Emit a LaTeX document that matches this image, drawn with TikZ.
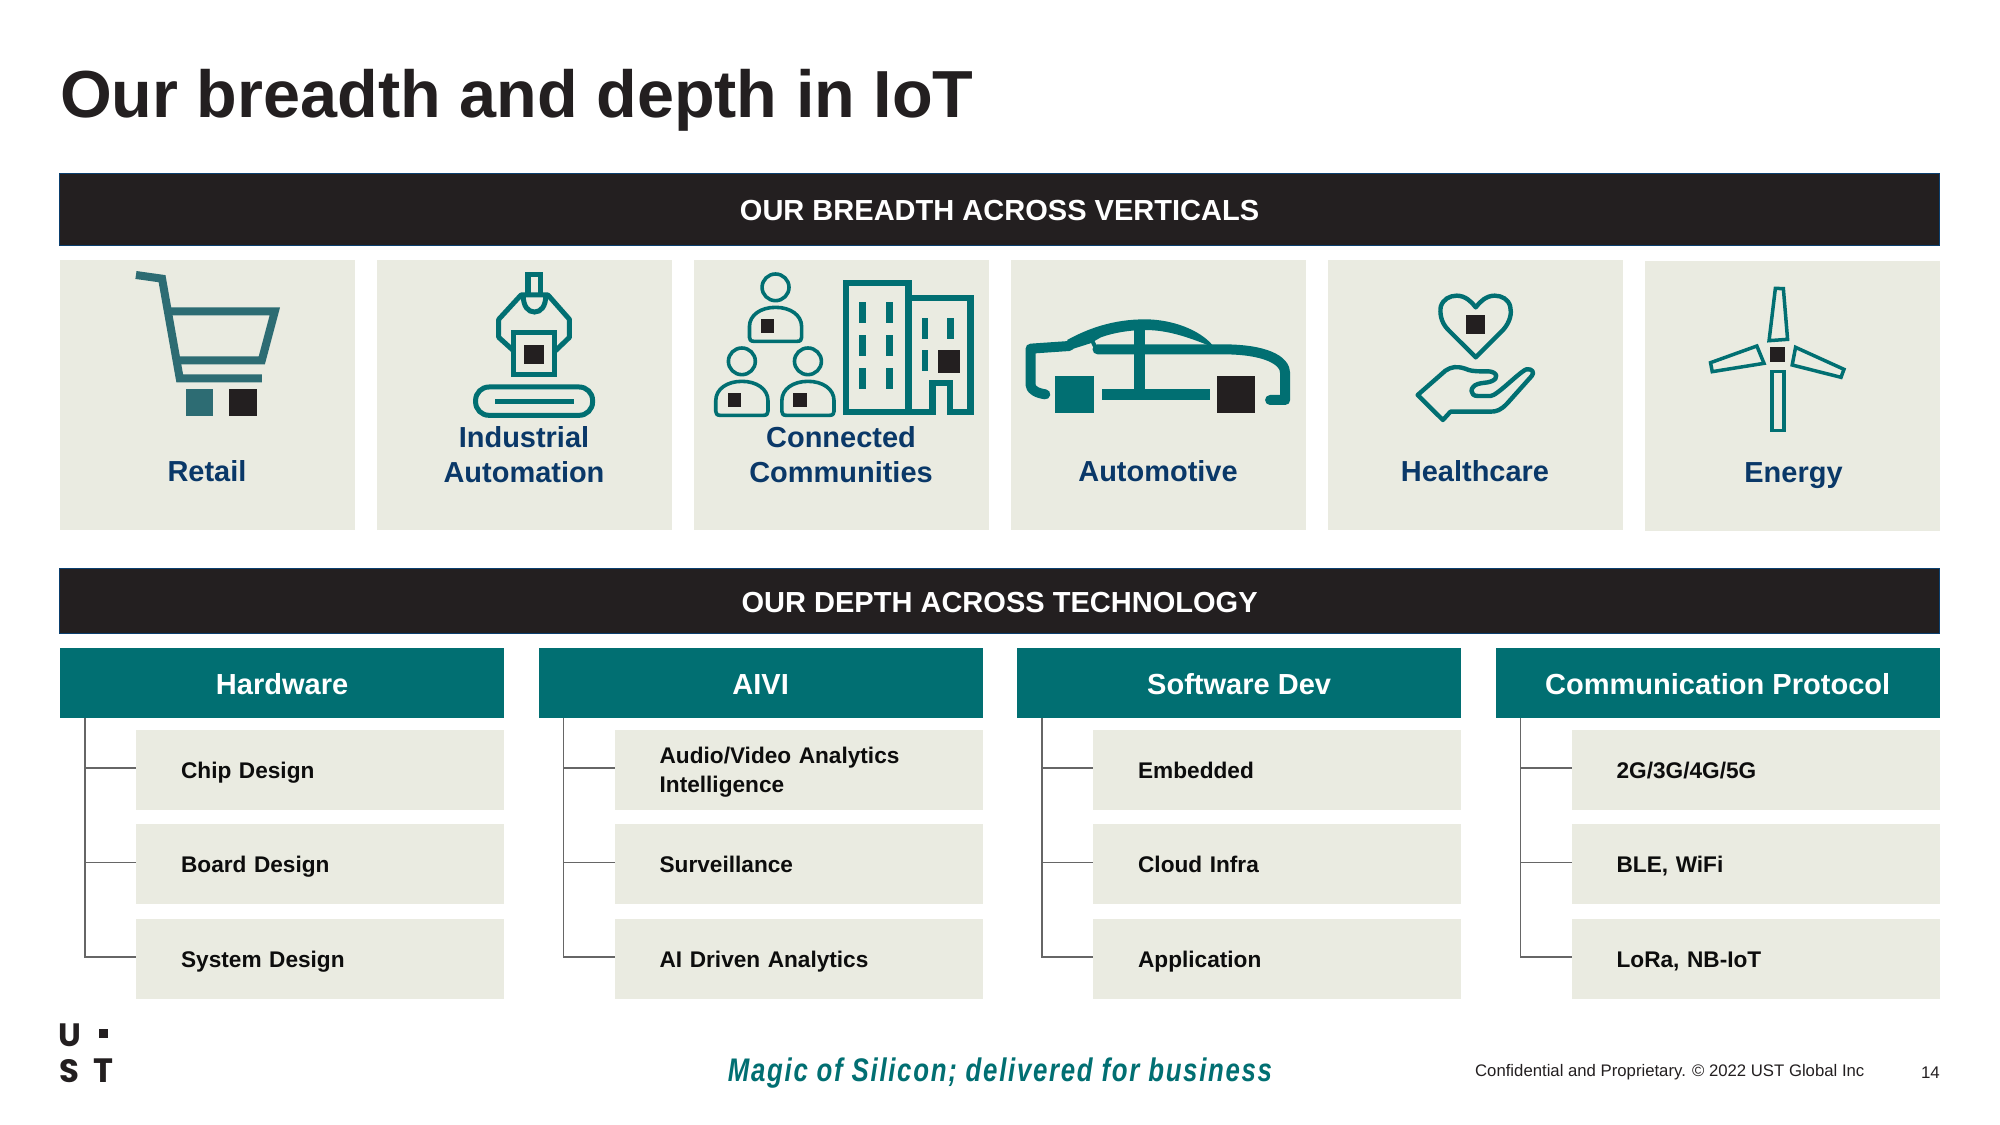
\documentclass[tikz,border=0pt]{standalone}
\usepackage{fontspec}
\usetikzlibrary{calc}
\setmainfont{Liberation Sans}
\newfontfamily\tagfont[FakeStretch=0.79,LetterSpace=5.2]{Liberation Sans}
\newfontfamily\logofont{Poppins}
\definecolor{ink}{HTML}{231F20}
\definecolor{teal}{HTML}{016F72}
\definecolor{cartteal}{HTML}{2D6C73}
\definecolor{panelbg}{HTML}{EAEBE1}
\definecolor{navy}{HTML}{0A3868}
\definecolor{bannerline}{HTML}{0B3F6E}
\definecolor{connline}{HTML}{666666}
\newcommand{\fs}[1]{\fontsize{#1}{#1}\selectfont}
\newcommand{\istrut}{\rule[-0.3cm]{0pt}{1.45cm}}
\tikzset{
  lw/.style={line width=#1*0.05cm},
  banner/.style={rectangle,fill=ink,draw=bannerline,line width=2pt,minimum width=94cm,text=white,font=\fs{41.3}\bfseries,inner sep=0pt,text height=1.35cm,text depth=0.25cm},
  panel/.style={rectangle,fill=panelbg,minimum width=14.72cm,minimum height=13.47cm,anchor=north west,inner sep=0pt},
  plabel/.style={text=navy,font=\fontsize{41.2}{50}\selectfont\bfseries,align=center,inner sep=0pt},
  sechead/.style={rectangle,fill=teal,text=white,font=\fs{41.3}\bfseries,minimum width=22.2cm,minimum height=3.5cm,anchor=north west,inner sep=0pt,text height=1.35cm,text depth=0.25cm},
  item/.style={rectangle,fill=panelbg,text=black!95,font=\fontsize{32.2}{39}\selectfont\bfseries,minimum height=4cm,text width=13.9cm,inner xsep=2.25cm,inner ysep=0pt,align=left,anchor=north west},
  conn/.style={draw=connline,line width=2.1pt},
  zo1/.style={shift={(40,250)},x=0.05cm/2.376,y=-0.05cm/3},
  zo2/.style={shift={(680,250)},x=0.05cm/2.376,y=-0.05cm/3},
  zo3/.style={shift={(1320,250)},x=0.05cm/2.376,y=-0.05cm/3},
  icon/.style={draw=teal,miter limit=8},
}
\newcommand{\cperson}[2]{%
  \begin{scope}[shift={(#1,#2)}]
    \draw[icon,lw=3.6] (227,112) ellipse [x radius=32,y radius=40];
    \draw[icon,lw=3.6,line join=round] (165,262) .. controls (165,270) and (168,274) .. (176,274) -- (278,274) .. controls (286,274) and (289,270) .. (289,262) -- (289,230) .. controls (289,195) and (262,172) .. (227,172) .. controls (192,172) and (165,195) .. (165,230) -- cycle;
  \end{scope}}
\begin{document}
\begin{tikzpicture}[x=0.05cm,y=-0.05cm]
\useasboundingbox (0,0) rectangle (2000,1125);
\fill[white] (0,0) rectangle (2000,1125);
\node[anchor=base west,inner sep=0pt,text=ink,font=\fs{94.7}\bfseries] (title) at (60,117.5) {Our breadth and depth in IoT};
\node[banner,minimum height=3.6cm] (b1) at (999.6,209.5) {OUR BREADTH ACROSS VERTICALS};
\node[banner,minimum height=3.25cm] (b2) at (999.6,601) {OUR DEPTH ACROSS TECHNOLOGY};
% panels
\node[panel] (p1) at (60,260) {};
\node[panel] (p2) at (377,260) {};
\node[panel] (p3) at (694,260) {};
\node[panel] (p4) at (1011,260) {};
\node[panel] (p5) at (1328,260) {};
\node[panel] (p6) at (1645,261) {};
% labels
\node[plabel,anchor=base] (l1) at (207,481) {Retail};
\node[plabel] (l2) at (524,454.5) {Industrial\\Automation};
\node[plabel] (l3) at (841,454.5) {Connected\\Communities};
\node[plabel,anchor=base] (l4) at (1158,481) {Automotive};
\node[plabel,anchor=base] (l5) at (1475,481) {Healthcare};
\node[plabel,anchor=base] (l6) at (1793.5,482) {Energy};
% cart
\begin{scope}[zo1]
  \draw[draw=cartteal,lw=8] (228,75) -- (290,86) -- (332,385) -- (527,385);
  \draw[draw=cartteal,lw=8] (306,184) -- (558,184) -- (527,331) -- (328,331);
  \fill[cartteal] (346,416) rectangle (410,497);
  \fill[ink] (450,416) rectangle (515,497);
  % robot arm
  \draw[icon,lw=5.6] (1160,130) -- (1160,73) -- (1189,73) -- (1189,130);
  \draw[icon,lw=5] (1148,134) .. controls (1148,170) and (1160,186) .. (1175,186) .. controls (1190,186) and (1202,170) .. (1202,134);
  \draw[icon,lw=5,line join=round] (1125,302) -- (1090,262) -- (1090,208) -- (1143,135) -- (1207,135) -- (1258,208) -- (1258,262) -- (1225,302);
  \draw[icon,lw=5,fill=panelbg] (1126,248) rectangle (1223,374);
  \fill[ink] (1151,285) rectangle (1197,343);
  \draw[icon,lw=5,rounded corners=19pt] (1035,411) rectangle (1313,496);
  \fill[teal] (1080,447) rectangle (1268,463);
\end{scope}
% communities
\begin{scope}[zo2]
  \cperson{0}{0}
  \cperson{-80}{222}
  \cperson{77}{222}
  \fill[ink] (192,208) rectangle (224,248);
  \fill[ink] (113,430) rectangle (145,470);
  \fill[ink] (269,430) rectangle (301,470);
  \draw[icon,lw=6.2] (543,143) -- (690,143) -- (690,487) -- (642,487) -- (642,400) -- (600,400) -- (600,487) -- (395,487) -- (395,100) -- (543,100) -- (543,487);
  \fill[teal] (426,155) rectangle (442,218);
  \fill[teal] (426,254) rectangle (442,318);
  \fill[teal] (426,353) rectangle (442,417);
  \fill[teal] (489,155) rectangle (505,218);
  \fill[teal] (489,254) rectangle (505,318);
  \fill[teal] (489,353) rectangle (505,417);
  \fill[teal] (574,203) rectangle (590,267);
  \fill[teal] (634,203) rectangle (650,267);
  \fill[teal] (574,301) rectangle (590,364);
  \fill[ink] (612,300) rectangle (666,370);
  % car
  \draw[icon,lw=10,line cap=round,line join=round] (868,433) .. controls (850,430) and (833,420) .. (833,405) -- (833,296) -- (925,288);
  \fill[teal] (1000,262) .. controls (1030,248) and (1070,240) .. (1105,240) .. controls (1160,240) and (1210,262) .. (1275,296) -- (1265,285) .. controls (1235,240) and (1170,208) .. (1105,208) .. controls (1030,208) and (970,235) .. (920,270) -- (925,300) -- (975,280) -- cycle;
  \draw[icon,lw=10,line cap=round,line join=round] (992,298) -- (1290,298) .. controls (1390,298) and (1438,330) .. (1438,370) -- (1438,450) -- (1402,450);
  \draw[icon,lw=4] (978,268) -- (990,300);
  \fill[teal] (1079,240) rectangle (1105,430);
  \fill[teal] (1003,418) rectangle (1260,451);
  \fill[teal] (892,377) rectangle (983,490);
  \fill[ink] (1276,377) rectangle (1366,490);
\end{scope}
% heart, hand, turbine
\begin{scope}[zo3]
  \draw[icon,lw=4.4,line join=round] (370,322) -- (305,240) .. controls (285,215) and (285,185) .. (287,170) .. controls (292,148) and (308,137) .. (325,137) .. controls (345,137) and (360,155) .. (370,172) .. controls (380,155) and (395,137) .. (415,137) .. controls (432,137) and (448,148) .. (452,170) .. controls (456,190) and (452,215) .. (435,240) -- cycle;
  \fill[ink] (347,195) rectangle (393,253);
  \draw[icon,lw=4.4,line join=round] (232,435) -- (298,362) .. controls (312,350) and (325,348) .. (345,356) .. controls (355,362) and (365,364) .. (385,364) -- (400,364) .. controls (420,365) and (428,385) .. (405,395) .. controls (395,399) and (385,398) .. (375,402) .. controls (355,410) and (355,438) .. (375,438) -- (405,438) .. controls (420,438) and (470,370) .. (490,358) .. controls (505,355) and (510,368) .. (503,378) -- (445,460) .. controls (430,480) and (420,485) .. (405,485) -- (310,485) -- (292,510) -- cycle;
  \draw[icon,lw=3.5] (1074,365) rectangle (1102,541);
  \draw[icon,lw=3.5] (1082,115) -- (1101,116) -- (1111,268) -- (1067,272) -- cycle;
  \draw[icon,lw=3.5] (1038,288) -- (1055,340) -- (932,365) -- (928,338) -- cycle;
  \draw[icon,lw=3.5] (1130,292) -- (1245,358) -- (1238,382) -- (1122,345) -- cycle;
  \fill[ink] (1070,292) rectangle (1106,337);
\end{scope}
% section heads
\node[sechead] (h1) at (60,648) {Hardware};
\node[sechead] (h2) at (538.5,648) {AIVI};
\node[sechead] (h3) at (1017,648) {Software Dev};
\node[sechead] (h4) at (1495.5,648) {Communication Protocol};
% items
\node[item] (i11) at (136,729.5) {\istrut Chip Design};
\node[item] (i12) at (136,824) {\istrut Board Design};
\node[item] (i13) at (136,918.5) {\istrut System Design};
\node[item] (i21) at (614.5,729.5) {\istrut Audio/Video Analytics\\\istrut Intelligence};
\node[item] (i22) at (614.5,824) {\istrut Surveillance};
\node[item] (i23) at (614.5,918.5) {\istrut AI Driven Analytics};
\node[item] (i31) at (1093,729.5) {\istrut Embedded};
\node[item] (i32) at (1093,824) {\istrut Cloud Infra};
\node[item] (i33) at (1093,918.5) {\istrut Application};
\node[item] (i41) at (1571.5,729.5) {\istrut 2G/3G/4G/5G};
\node[item] (i42) at (1571.5,824) {\istrut BLE, WiFi};
\node[item] (i43) at (1571.5,918.5) {\istrut LoRa, NB-IoT};
% connectors
\foreach \c in {1,2,3,4}{
  \coordinate (t\c) at ($(h\c.south west)+(25,0)$);
  \draw[conn,line join=miter] (t\c) |- ($(i\c3.west)+(0,-1.7)$);
  \draw[conn,line width=1.9pt] (t\c |- i\c1.west) ++(0,-1.7) -- ($(i\c1.west)+(0,-1.7)$);
  \draw[conn,line width=1.9pt] (t\c |- i\c2.west) ++(0,-1.7) -- ($(i\c2.west)+(0,-1.7)$);
}
% logo
\node[anchor=base west,inner sep=0pt,text=ink,font=\logofont\fs{46}\bfseries] (lu) at (58,1046) {U};
\node[rectangle,fill=ink,minimum width=0.45cm,minimum height=0.45cm,inner sep=0pt] (ls) at (103.5,1033.5) {};
\node[anchor=base west,inner sep=0pt,text=ink,font=\logofont\fs{46}\bfseries] (lss) at (59,1082) {S};
\node[anchor=base west,inner sep=0pt,text=ink,font=\logofont\fs{48}\bfseries] (lt) at (93,1082) {T};
% footer
\node[anchor=base,inner sep=0pt,text=teal,font=\tagfont\fs{46.5}\bfseries\itshape] (tag) at (1000,1081) {Magic of Silicon; delivered for business};
\node[anchor=base west,inner sep=0pt,text=ink,font=\fs{23.8}] (conf) at (1475,1076) {Confidential and Proprietary. © 2022 UST Global Inc};
\node[anchor=base east,inner sep=0pt,text=ink,font=\fs{24}] (pg) at (1940,1078) {14};
\end{tikzpicture}
\end{document}
